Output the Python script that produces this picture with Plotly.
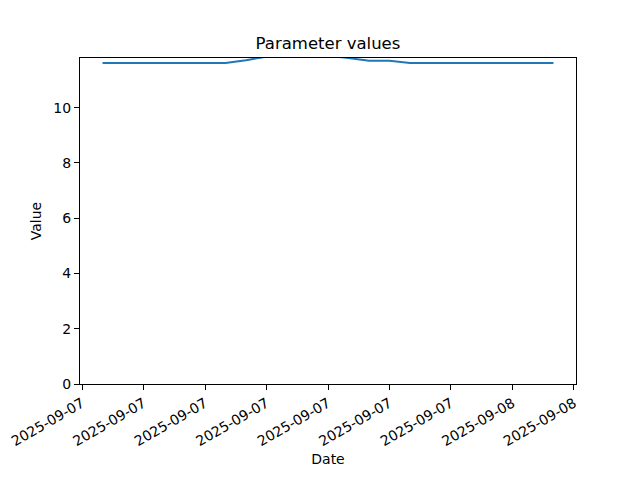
import plotly.graph_objects as go

times = [
    "2025-09-07 04:00", "2025-09-07 05:00", "2025-09-07 06:00", "2025-09-07 07:00",
    "2025-09-07 08:00", "2025-09-07 09:00", "2025-09-07 10:00", "2025-09-07 11:00",
    "2025-09-07 12:00", "2025-09-07 13:00", "2025-09-07 14:00", "2025-09-07 15:00",
    "2025-09-07 16:00", "2025-09-07 17:00", "2025-09-07 18:00", "2025-09-07 19:00",
    "2025-09-07 20:00", "2025-09-07 21:00", "2025-09-07 22:00", "2025-09-07 23:00",
    "2025-09-08 00:00", "2025-09-08 01:00", "2025-09-08 02:00",
]
values = [
    11.62, 11.62, 11.62, 11.62, 11.62, 11.62, 11.62, 11.72,
    11.85, 11.9, 11.9, 11.88, 11.8, 11.7, 11.7, 11.62,
    11.62, 11.62, 11.62, 11.62, 11.62, 11.62, 11.62,
]

font = dict(family="DejaVu Sans", size=14, color="black")

fig = go.Figure()
fig.add_trace(go.Scatter(x=times, y=values, mode="lines",
                         line=dict(color="#1f77b4", width=2)))

fig.update_layout(
    width=640, height=480,
    margin=dict(l=80, r=64, t=58, b=96, autoexpand=False),
    paper_bgcolor="white", plot_bgcolor="white",
    font=font,
    showlegend=False,
    title=dict(text="Parameter values", x=0.5125, xanchor="center",
               y=1 - 43 / 480, yanchor="middle",
               font=dict(family="DejaVu Sans", size=16.5, color="black")),
    xaxis=dict(
        type="date", automargin=False,
        range=["2025-09-07 02:54", "2025-09-08 03:06"],
        tick0="2025-09-07 03:00", dtick=3 * 3600 * 1000,
        tickformat="%Y-%m-%d", tickangle=-30,
        showgrid=False, zeroline=False,
        showline=True, linecolor="black", linewidth=1, mirror=True,
        ticks="outside", ticklen=5, tickcolor="black",
        title=dict(text="Date", standoff=6, font=font),
    ),
    yaxis=dict(
        range=[0, 11.8], automargin=False,
        tickmode="array", tickvals=[0, 2, 4, 6, 8, 10],
        showgrid=False, zeroline=False,
        showline=True, linecolor="black", linewidth=1, mirror=True,
        ticks="outside", ticklen=5, tickcolor="black",
        title=dict(text="Value", standoff=8, font=font),
    ),
)

fig.write_html("out.html", config={"displayModeBar": False},
               post_script="document.body.style.margin='0';document.body.style.padding='0';")
